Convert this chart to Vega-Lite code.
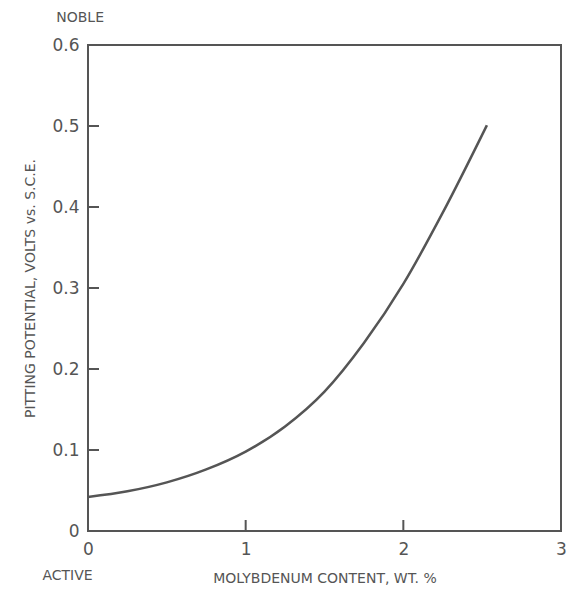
{
  "$schema": "https://vega.github.io/schema/vega-lite/v6.json",
  "width": 473,
  "height": 486,
  "autosize": {"type": "none"},
  "padding": {"left": 88, "top": 45, "right": 8, "bottom": 62},
  "background": "white",
  "config": {
    "view": {"stroke": "#555", "strokeWidth": 2},
    "font": "DejaVu Sans",
    "axis": {
      "grid": false,
      "domain": false,
      "ticks": false,
      "labelColor": "#555",
      "labelFontSize": 17,
      "labelFont": "DejaVu Sans",
      "titleColor": "#555",
      "titleFontSize": 14,
      "titleFontWeight": "normal",
      "titleFont": "DejaVu Sans"
    }
  },
  "layer": [
    {
      "data": {"values": [
        {"mo": 0.0, "ep": 0.042},
        {"mo": 0.25, "ep": 0.049},
        {"mo": 0.5, "ep": 0.060},
        {"mo": 0.75, "ep": 0.076},
        {"mo": 1.0, "ep": 0.098},
        {"mo": 1.25, "ep": 0.129},
        {"mo": 1.5, "ep": 0.172},
        {"mo": 1.75, "ep": 0.232},
        {"mo": 2.0, "ep": 0.305},
        {"mo": 2.25, "ep": 0.393},
        {"mo": 2.53, "ep": 0.501}
      ]},
      "mark": {"type": "line", "color": "#555", "strokeWidth": 2.5, "interpolate": "monotone"},
      "encoding": {
        "x": {
          "field": "mo", "type": "quantitative",
          "scale": {"domain": [0, 3], "nice": false},
          "axis": {"values": [0, 1, 2, 3], "labelPadding": 10, "format": "d", "title": "MOLYBDENUM CONTENT, WT. %", "titlePadding": 14, "labelFlush": false}
        },
        "y": {
          "field": "ep", "type": "quantitative",
          "scale": {"domain": [0, 0.6], "nice": false},
          "axis": {"values": [0, 0.1, 0.2, 0.3, 0.4, 0.5, 0.6], "labelPadding": 9, "labelExpr": "datum.value == 0 ? '0' : format(datum.value, '.1f')", "title": "PITTING POTENTIAL, VOLTS vs. S.C.E.", "titlePadding": 14, "labelFlush": false}
        }
      }
    },
    {
      "data": {"values": [{"v": 1}, {"v": 2}]},
      "mark": {"type": "tick", "orient": "vertical", "color": "#555", "size": 22, "thickness": 2, "opacity": 1, "clip": true},
      "encoding": {
        "x": {"field": "v", "type": "quantitative"},
        "y": {"datum": 0, "type": "quantitative"}
      }
    },
    {
      "data": {"values": [{"v": 0.1}, {"v": 0.2}, {"v": 0.3}, {"v": 0.4}, {"v": 0.5}]},
      "mark": {"type": "tick", "orient": "horizontal", "color": "#555", "size": 22, "thickness": 2, "opacity": 1, "clip": true},
      "encoding": {
        "x": {"datum": 0, "type": "quantitative"},
        "y": {"field": "v", "type": "quantitative"}
      }
    },
    {
      "data": {"values": [
        {"label": "NOBLE", "mo": -0.05, "ep": 0.633},
        {"label": "ACTIVE", "mo": -0.13, "ep": -0.055}
      ]},
      "mark": {"type": "text", "color": "#555", "fontSize": 14, "font": "DejaVu Sans", "clip": false},
      "encoding": {
        "x": {"field": "mo", "type": "quantitative"},
        "y": {"field": "ep", "type": "quantitative"},
        "text": {"field": "label"}
      }
    }
  ]
}
